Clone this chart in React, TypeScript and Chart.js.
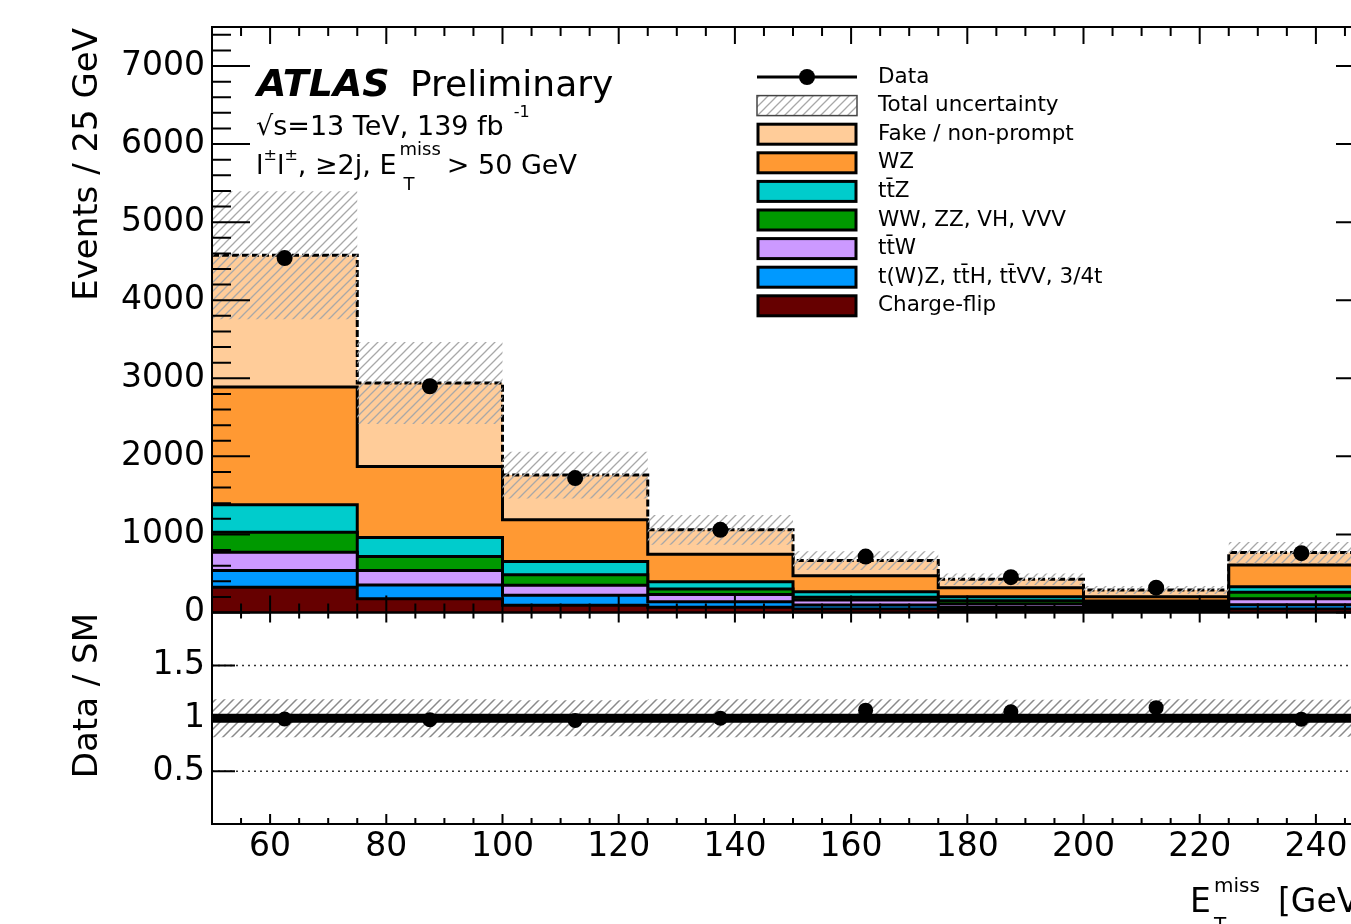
import React, { useEffect, useRef } from "react";
import { Chart, registerables } from "chart.js";

Chart.register(...registerables);

// ---------------- data ----------------
const binEdges = [50, 75, 100, 125, 150, 175, 200, 225, 250];
const dataCounts = [4540, 2898, 1722, 1059, 716, 452, 318, 760];
const fakeNonPrompt = [1685, 1070, 573, 312, 195, 108, 86, 158];
const wzCounts = [1510, 911, 535, 352, 203, 115, 55, 278];
const ttZCounts = [351, 244, 167, 93, 72, 53, 33, 72];
const dibosonCounts = [257, 179, 136, 73, 35, 40, 30, 82];
const ttWCounts = [235, 184, 128, 90, 64, 45, 35, 77];
const rareTopCounts = [214, 176, 129, 73, 51, 35, 28, 55];
const chargeFlipCounts = [323, 177, 92, 66, 45, 30, 22, 45];
const totalUncertainty = [820, 525, 300, 190, 120, 75, 52, 135];

const xTickLabels = [60, 80, 100, 120, 140, 160, 180, 200, 220, 240];
const yTickLabels = [0, 1000, 2000, 3000, 4000, 5000, 6000, 7000];
const ratioTickLabels = [0.5, 1, 1.5];

// bottom-up stack order
const stackLabels = [
  "Charge-flip",
  "t(W)Z, tt\u0304H, tt\u0304VV, 3/4t",
  "tt\u0304W",
  "WW, ZZ, VH, VVV",
  "tt\u0304Z",
  "WZ",
  "Fake / non-prompt",
];
const stackValues = [
  chargeFlipCounts,
  rareTopCounts,
  ttWCounts,
  dibosonCounts,
  ttZCounts,
  wzCounts,
  fakeNonPrompt,
];
const stackColors = ["#660000", "#0099ff", "#cc99ff", "#009900", "#00cccc", "#ff9933", "#ffcc99"];

const FONT = "'DejaVu Sans', 'Liberation Sans', sans-serif";

// ---------------- helpers ----------------
const nBins = dataCounts.length;
const binCenters = dataCounts.map((_, i) => (binEdges[i] + binEdges[i + 1]) / 2);
const cumulative = stackValues.map((_, k) =>
  binCenters.map((__, i) => stackValues.slice(0, k + 1).reduce((s, arr) => s + arr[i], 0))
);
const totalSM = cumulative[cumulative.length - 1];

const stepPoints = (vals: number[]) => [
  ...vals.map((v, i) => ({ x: binEdges[i], y: v })),
  { x: binEdges[nBins], y: vals[nBins - 1] },
];

function makeHatch(ctx: CanvasRenderingContext2D, color: string, lw: number, s: number) {
  const c = document.createElement("canvas");
  c.width = s;
  c.height = s;
  const g = c.getContext("2d")!;
  g.strokeStyle = color;
  g.lineWidth = lw;
  g.beginPath();
  g.moveTo(0, s);
  g.lineTo(s, 0);
  g.moveTo(-s / 2, s / 2);
  g.lineTo(s / 2, -s / 2);
  g.moveTo(s / 2, s * 1.5);
  g.lineTo(s * 1.5, s / 2);
  g.stroke();
  return ctx.createPattern(c, "repeat")!;
}

type Seg = { t: string; s: number; dy?: number; dx?: number; f?: string };
function drawSeq(ctx: CanvasRenderingContext2D, x: number, y: number, segs: Seg[]) {
  for (const sg of segs) {
    ctx.font = `${sg.f || ""} ${sg.s}px ${FONT}`;
    x += sg.dx || 0;
    ctx.fillText(sg.t, x, y + (sg.dy || 0));
    x += ctx.measureText(sg.t).width;
  }
  return x;
}

type AxisCfg = {
  xMajorTop: number;
  xMinorTop: number;
  xMajorBot: number;
  xMinorBot: number;
  yMajor: number;
  yMinor: number;
  yMinorStep: number;
  yMinorMax: number;
  yMajorVals: number[];
};

function makeAxesPlugin(c: AxisCfg) {
  return {
    id: "atlasAxes",
    afterDatasetsDraw(chart: any) {
      const { ctx, chartArea, scales } = chart;
      const { left, right, top, bottom } = chartArea;
      const xs = scales.x;
      const ys = scales.y;
      ctx.save();
      ctx.strokeStyle = "#000";
      ctx.lineWidth = 2;
      ctx.setLineDash([]);
      ctx.beginPath();
      for (let v = binEdges[0]; v <= binEdges[nBins] + 1e-9; v += 5) {
        const px = xs.getPixelForValue(v);
        const major = v % 20 === 0;
        ctx.moveTo(px, bottom);
        ctx.lineTo(px, bottom - (major ? c.xMajorBot : c.xMinorBot));
        ctx.moveTo(px, top);
        ctx.lineTo(px, top + (major ? c.xMajorTop : c.xMinorTop));
      }
      if (c.yMinorStep > 0) {
        for (let v = 0; v <= c.yMinorMax + 1e-9; v += c.yMinorStep) {
          const py = ys.getPixelForValue(v);
          ctx.moveTo(left, py);
          ctx.lineTo(left + c.yMinor, py);
          ctx.moveTo(right, py);
          ctx.lineTo(right - c.yMinor, py);
        }
      }
      for (const v of c.yMajorVals) {
        const py = ys.getPixelForValue(v);
        ctx.moveTo(left, py);
        ctx.lineTo(left + c.yMajor, py);
        ctx.moveTo(right, py);
        ctx.lineTo(right - c.yMajor, py);
      }
      ctx.stroke();
      ctx.strokeRect(left, top, right - left, bottom - top);
      ctx.restore();
    },
  };
}

const noPad = (s: any) => {
  s.paddingTop = 0;
  s.paddingBottom = 0;
  s.paddingLeft = 0;
  s.paddingRight = 0;
};

// ---------------- component ----------------
export default function App() {
  const topRef = useRef<HTMLCanvasElement>(null);
  const botRef = useRef<HTMLCanvasElement>(null);

  useEffect(() => {
    const topCtx = topRef.current!.getContext("2d")!;
    const botCtx = botRef.current!.getContext("2d")!;
    const hatchTop = makeHatch(topCtx, "#a8a8a8", 1.3, 9);
    const hatchBot = makeHatch(botCtx, "#8a8a8a", 1.5, 9);

    // ---------- top panel ----------
    const stackDatasets = stackValues
      .map((_, k) => ({
        type: "line" as const,
        label: stackLabels[k],
        data: stepPoints(cumulative[k]),
        stepped: "before" as const,
        borderColor: "#000",
        borderWidth: 3,
        borderDash: k === stackValues.length - 1 ? [7, 3] : [],
        backgroundColor: stackColors[k],
        fill: k === 0 ? "origin" : "+1",
        pointRadius: 0,
        order: 3 + k,
      }))
      .reverse(); // top-down so that '+1' references the layer below

    const topDatasets: any[] = [
      {
        type: "line",
        label: "Data",
        data: binCenters.map((x, i) => ({ x, y: dataCounts[i] })),
        showLine: false,
        pointRadius: 8,
        pointBackgroundColor: "#000",
        pointBorderColor: "#000",
        pointBorderWidth: 0,
        order: 0,
      },
      {
        type: "line",
        label: "Total uncertainty",
        data: stepPoints(totalSM.map((t, i) => t + totalUncertainty[i])),
        stepped: "before",
        borderWidth: 0,
        backgroundColor: hatchTop,
        fill: "+1",
        pointRadius: 0,
        order: 1,
      },
      {
        type: "line",
        label: "unc-low",
        data: stepPoints(totalSM.map((t, i) => t - totalUncertainty[i])),
        stepped: "before",
        borderWidth: 0,
        fill: false,
        pointRadius: 0,
        order: 2,
      },
      ...stackDatasets,
    ];

    const topDecor = {
      id: "topDecor",
      afterDraw(chart: any) {
        const ctx: CanvasRenderingContext2D = chart.ctx;
        ctx.save();
        ctx.fillStyle = "#000";
        ctx.textAlign = "left";
        ctx.textBaseline = "alphabetic";

        // y title
        ctx.save();
        ctx.translate(97, 28);
        ctx.rotate(-Math.PI / 2);
        ctx.textAlign = "right";
        ctx.font = `34px ${FONT}`;
        ctx.fillText("Events / 25 GeV", 0, 0);
        ctx.restore();

        // ATLAS label
        ctx.font = `italic bold 38px ${FONT}`;
        ctx.fillText("ATLAS", 257, 96);
        ctx.font = `36px ${FONT}`;
        ctx.fillText("Preliminary", 410, 96);

        drawSeq(ctx, 256, 135, [
          { t: "\u221As=13 TeV, 139 fb", s: 27 },
          { t: "-1", s: 16, dy: -18, dx: 10 },
        ]);

        let x = drawSeq(ctx, 256, 174, [
          { t: "l", s: 27 },
          { t: "\u00B1", s: 16, dy: -14 },
          { t: "l", s: 27 },
          { t: "\u00B1", s: 16, dy: -14 },
          { t: ", \u22652j, E", s: 27 },
        ]);
        ctx.font = `18px ${FONT}`;
        const wMiss = ctx.measureText("miss").width;
        ctx.fillText("miss", x + 3, 155);
        ctx.fillText("T", x + 7, 190);
        drawSeq(ctx, x + wMiss + 9, 174, [{ t: "> 50 GeV", s: 27 }]);

        // legend
        const lx0 = 757;
        const lx1 = 857;
        const rowY = (i: number) => 77 + i * 28.6;
        const labels = ["Data", "Total uncertainty", ...stackLabels.slice().reverse()];
        const colors = stackColors.slice().reverse();
        // data row
        ctx.strokeStyle = "#000";
        ctx.lineWidth = 3;
        ctx.beginPath();
        ctx.moveTo(lx0, rowY(0));
        ctx.lineTo(lx1, rowY(0));
        ctx.stroke();
        ctx.beginPath();
        ctx.arc((lx0 + lx1) / 2, rowY(0), 8, 0, Math.PI * 2);
        ctx.fillStyle = "#000";
        ctx.fill();
        // uncertainty row
        ctx.fillStyle = "#fff";
        ctx.fillRect(lx0, rowY(1) - 10, lx1 - lx0, 20);
        ctx.fillStyle = hatchTop;
        ctx.fillRect(lx0, rowY(1) - 10, lx1 - lx0, 20);
        ctx.strokeStyle = "#444";
        ctx.lineWidth = 1.5;
        ctx.strokeRect(lx0, rowY(1) - 10, lx1 - lx0, 20);
        // stack rows
        colors.forEach((c, k) => {
          const y = rowY(k + 2);
          ctx.fillStyle = c;
          ctx.fillRect(lx0 + 1, y - 10, lx1 - lx0 - 2, 20);
          ctx.strokeStyle = "#000";
          ctx.lineWidth = 3;
          ctx.strokeRect(lx0 + 1, y - 10, lx1 - lx0 - 2, 20);
        });
        ctx.fillStyle = "#000";
        ctx.font = `21.5px ${FONT}`;
        ctx.textBaseline = "middle";
        labels.forEach((l, i) => ctx.fillText(l, 878, rowY(i)));
        ctx.restore();
      },
    };

    const topChart = new Chart(topRef.current!, {
      type: "line",
      data: { datasets: topDatasets },
      options: {
        responsive: false,
        animation: false,
        events: [],
        layout: { padding: { top: 27, bottom: 27.5, left: 0, right: 26 } },
        plugins: { legend: { display: false }, tooltip: { enabled: false } },
        scales: {
          x: { type: "linear", min: binEdges[0], max: binEdges[nBins], display: false },
          y: {
            type: "linear",
            min: 0,
            max: 7500,
            afterBuildTicks: (s: any) => {
              s.ticks = yTickLabels.map((v) => ({ value: v }));
            },
            afterFit: (s: any) => {
              s.width = 212;
              noPad(s);
            },
            grid: { display: false, drawTicks: false },
            border: { display: false },
            ticks: {
              font: { family: FONT, size: 33 },
              color: "#000",
              padding: 7,
              autoSkip: false,
              callback: (v: any) => String(v),
            },
          },
        },
      } as any,
      plugins: [
        makeAxesPlugin({
          xMajorTop: 17,
          xMinorTop: 9,
          xMajorBot: 17,
          xMinorBot: 9,
          yMajor: 38,
          yMinor: 19,
          yMinorStep: 200,
          yMinorMax: 7400,
          yMajorVals: yTickLabels,
        }),
        topDecor,
      ],
    });

    // ---------- ratio panel ----------
    const ratioDatasets: any[] = [
      {
        type: "line",
        label: "Data / SM",
        data: binCenters.map((x, i) => ({ x, y: dataCounts[i] / totalSM[i] })),
        showLine: false,
        pointRadius: 7.5,
        pointBackgroundColor: "#000",
        pointBorderWidth: 0,
        order: 0,
      },
      {
        type: "line",
        label: "unity",
        data: [
          { x: binEdges[0], y: 1 },
          { x: binEdges[nBins], y: 1 },
        ],
        borderColor: "#000",
        borderWidth: 9,
        pointRadius: 0,
        fill: false,
        order: 1,
      },
      {
        type: "line",
        label: "ratio-unc-high",
        data: stepPoints(totalSM.map((t, i) => 1 + totalUncertainty[i] / t)),
        stepped: "before",
        borderWidth: 0,
        backgroundColor: hatchBot,
        fill: "+1",
        pointRadius: 0,
        order: 2,
      },
      {
        type: "line",
        label: "ratio-unc-low",
        data: stepPoints(totalSM.map((t, i) => 1 - totalUncertainty[i] / t)),
        stepped: "before",
        borderWidth: 0,
        fill: false,
        pointRadius: 0,
        order: 3,
      },
    ];

    const ratioGuides = {
      id: "ratioGuides",
      beforeDatasetsDraw(chart: any) {
        const { ctx, chartArea, scales } = chart;
        ctx.save();
        ctx.strokeStyle = "#333";
        ctx.lineWidth = 1.5;
        ctx.setLineDash([2, 4]);
        ratioTickLabels
          .filter((v) => v !== 1)
          .forEach((v) => {
            const py = scales.y.getPixelForValue(v);
            ctx.beginPath();
            ctx.moveTo(chartArea.left, py);
            ctx.lineTo(chartArea.right, py);
            ctx.stroke();
          });
        ctx.restore();
      },
    };

    const ratioDecor = {
      id: "ratioDecor",
      afterDraw(chart: any) {
        const ctx: CanvasRenderingContext2D = chart.ctx;
        ctx.save();
        ctx.fillStyle = "#000";
        ctx.textBaseline = "alphabetic";
        ctx.save();
        ctx.translate(97, 13);
        ctx.rotate(-Math.PI / 2);
        ctx.textAlign = "right";
        ctx.font = `34px ${FONT}`;
        ctx.fillText("Data / SM", 0, 0);
        ctx.restore();

        ctx.textAlign = "left";
        ctx.font = `33px ${FONT}`;
        ctx.fillText("E", 1190, 312);
        ctx.font = `20px ${FONT}`;
        ctx.fillText("miss", 1214, 292);
        ctx.fillText("T", 1214, 331);
        ctx.font = `33px ${FONT}`;
        ctx.fillText("[GeV]", 1278, 312);
        ctx.restore();
      },
    };

    const botChart = new Chart(botRef.current!, {
      type: "line",
      data: { datasets: ratioDatasets },
      options: {
        responsive: false,
        animation: false,
        events: [],
        layout: { padding: { top: 12.5, bottom: 0, left: 0, right: 26 } },
        plugins: { legend: { display: false }, tooltip: { enabled: false } },
        scales: {
          x: {
            type: "linear",
            min: binEdges[0],
            max: binEdges[nBins],
            afterBuildTicks: (s: any) => {
              s.ticks = xTickLabels.map((v) => ({ value: v }));
            },
            afterFit: (s: any) => {
              s.height = 100;
              noPad(s);
            },
            grid: { display: false, drawTicks: false },
            border: { display: false },
            ticks: {
              font: { family: FONT, size: 33 },
              color: "#000",
              padding: 4,
              maxRotation: 0,
              autoSkip: false,
              callback: (v: any) => String(v),
            },
          },
          y: {
            type: "linear",
            min: 0,
            max: 2,
            afterBuildTicks: (s: any) => {
              s.ticks = ratioTickLabels.map((v) => ({ value: v }));
            },
            afterFit: (s: any) => {
              s.width = 212;
              noPad(s);
            },
            grid: { display: false, drawTicks: false },
            border: { display: false },
            ticks: {
              font: { family: FONT, size: 33 },
              color: "#000",
              padding: 7,
              autoSkip: false,
              callback: (v: any) => String(v),
            },
          },
        },
      } as any,
      plugins: [
        ratioGuides,
        makeAxesPlugin({
          xMajorTop: 10,
          xMinorTop: 6,
          xMajorBot: 10,
          xMinorBot: 6,
          yMajor: 23,
          yMinor: 0,
          yMinorStep: 0,
          yMinorMax: 0,
          yMajorVals: ratioTickLabels,
        }),
        ratioDecor,
      ],
    });

    return () => {
      topChart.destroy();
      botChart.destroy();
    };
  }, []);

  return (
    <div
      style={{
        position: "fixed",
        left: 0,
        top: 0,
        width: 1351,
        height: 924,
        overflow: "hidden",
        background: "#fff",
      }}
    >
      <canvas
        ref={topRef}
        width={1400}
        height={640}
        style={{ position: "absolute", left: 0, top: 0, width: 1400, height: 640 }}
      />
      <canvas
        ref={botRef}
        width={1400}
        height={324}
        style={{ position: "absolute", left: 0, top: 600, width: 1400, height: 324 }}
      />
    </div>
  );
}
